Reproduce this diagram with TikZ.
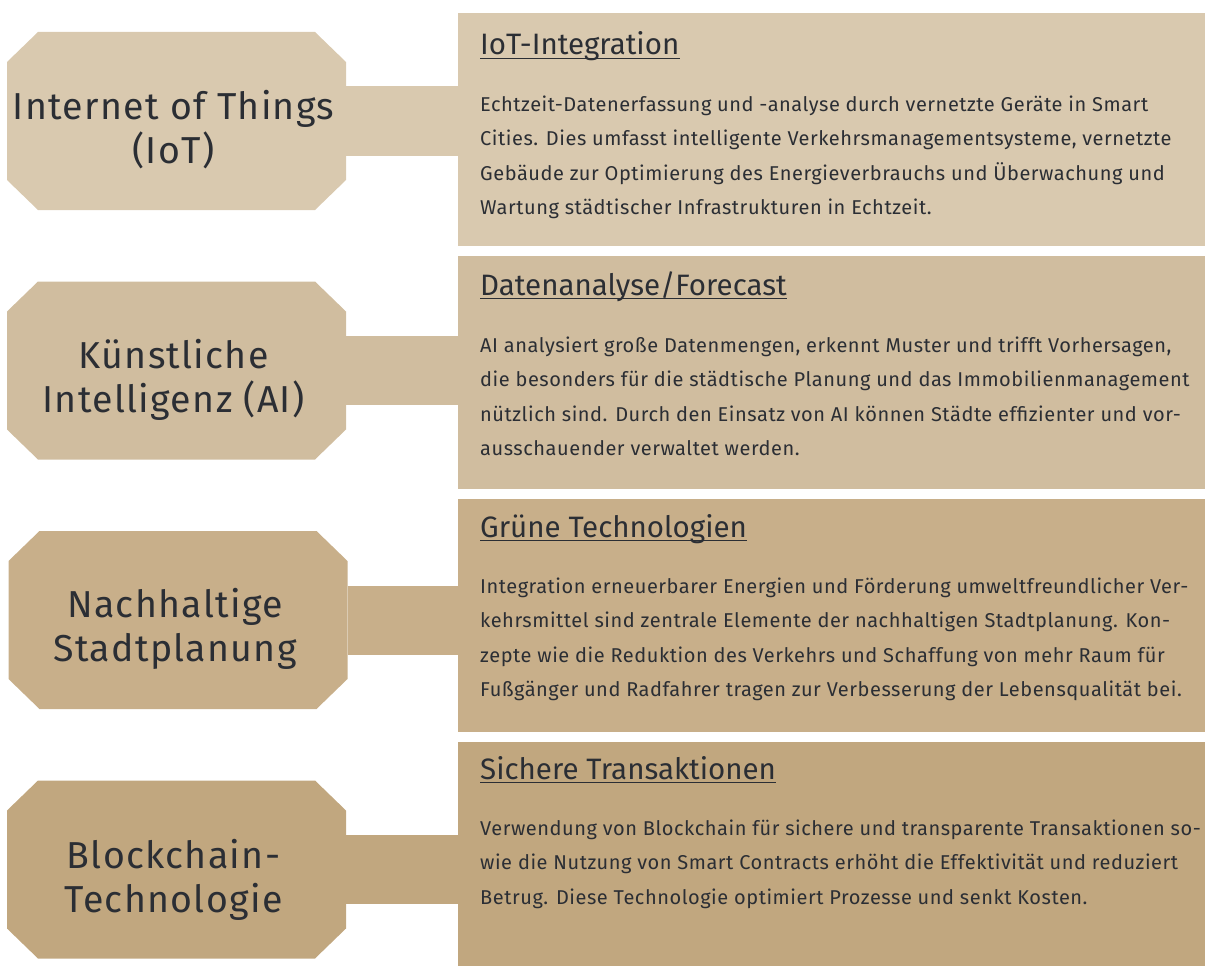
\documentclass[tikz,border=0pt]{standalone}
\usepackage{fontspec}
\setmainfont{Fira Sans}
\newfontfamily\topicfont{Fira Sans}[LetterSpace=3.5]
\newfontfamily\copyfont{Fira Sans}[LetterSpace=2.7]

\definecolor{tanA}{HTML}{D9C9AF}
\definecolor{tanB}{HTML}{D0BD9F}
\definecolor{tanC}{HTML}{C8AF8A}
\definecolor{tanD}{HTML}{C1A77F}
\definecolor{inkgray}{HTML}{2B2E34}

\tikzset{
  topicbox/.style={rectangle, inner sep=0pt, minimum width=339pt,
    minimum height=178pt,
    path picture={\fill[#1]
      ([xshift=31pt]path picture bounding box.north west) --
      ([xshift=-31pt]path picture bounding box.north east) --
      ([yshift=-30pt]path picture bounding box.north east) --
      ([yshift=30pt]path picture bounding box.south east) --
      ([xshift=-31pt]path picture bounding box.south east) --
      ([xshift=31pt]path picture bounding box.south west) --
      ([yshift=30pt]path picture bounding box.south west) --
      ([yshift=-30pt]path picture bounding box.north west) -- cycle;}},
  topiclabel/.style={inner sep=0pt, align=center, text=inkgray,
    font=\topicfont\fontsize{37.5}{44}\selectfont},
  detailbox/.style={rectangle, anchor=north west, minimum width=747pt,
    inner sep=0pt},
  link/.style={line width=69pt},
  headline/.style={anchor=base west, inner sep=0pt, text=inkgray,
    font=\fontsize{29.5}{34}\selectfont},
  underrule/.style={draw=inkgray, line width=1.4pt},
  bodytext/.style={anchor=base west, inner sep=0pt, align=left, text=inkgray,
    font=\copyfont\fontsize{20}{34.5}\selectfont}
}

\begin{document}
\begin{tikzpicture}[x=1pt,y=-1pt]
    \useasboundingbox (0,0) rectangle (1205,966);

    % Textfelder rechts
    \node [detailbox, fill=tanA, minimum height=233pt] (iotinfo) at (458,13) {};
    \node [detailbox, fill=tanB, minimum height=233pt] (aiinfo) at (458,256) {};
    \node [detailbox, fill=tanC, minimum height=233pt] (greeninfo) at (458,499) {};
    \node [detailbox, fill=tanD, minimum height=224pt] (chaininfo) at (458,742) {};

    % Achtecke links
    \node [topicbox=tanA] (iot) at (176.5,121) {};
    \node [topicbox=tanB] (ai) at (176.5,370.5) {};
    \node [topicbox=tanC] (green) at (178,620) {};
    \node [topicbox=tanD] (chain) at (176.5,869.5) {};

    \node [topiclabel] (iotlabel) at ([xshift=-3pt,yshift=-9pt]iot.center) {Internet of Things\\(IoT)};
    \node [topiclabel] (ailabel) at ([xshift=-3pt,yshift=-9pt]ai.center) {Künstliche\\Intelligenz (AI)};
    \node [topiclabel] (greenlabel) at ([xshift=-3pt,yshift=-9pt]green.center) {Nachhaltige\\Stadtplanung};
    \node [topiclabel] (chainlabel) at ([xshift=-3pt,yshift=-10pt]chain.center) {Blockchain-\\Technologie};

    % Verbindungsbalken
    \draw [link, tanA] (iot.east) -- (iot.east -| iotinfo.west);
    \draw [link, tanB] (ai.east) -- (ai.east -| aiinfo.west);
    \draw [link, tanC] (green.east) -- (green.east -| greeninfo.west);
    \draw [link, tanD] (chain.east) -- (chain.east -| chaininfo.west);

    % Ueberschriften
    \node [headline] (iothead) at (480,55) {IoT-Integration};
    \node [headline] (aihead) at (480,295) {Datenanalyse/Forecast};
    \node [headline] (greenhead) at (480,537) {Grüne Technologien};
    \node [headline] (chainhead) at (480,779) {Sichere Transaktionen};
    \foreach \h in {iothead, aihead, greenhead, chainhead}
        \draw [underrule] ([yshift=-3.5pt]\h.base west) -- ([yshift=-3.5pt]\h.base east);

    % Beschreibungen (Anker an der letzten Zeile)
    \node [bodytext] (iottext) at (480,214.5) {Echtzeit-Datenerfassung und -analyse durch vernetzte Geräte in Smart\\
      Cities. Dies umfasst intelligente Verkehrsmanagementsysteme, vernetzte\\
      Gebäude zur Optimierung des Energieverbrauchs und Überwachung und\\
      Wartung städtischer Infrastrukturen in Echtzeit.};
    \node [bodytext] (aitext) at (480,455.5) {AI analysiert große Datenmengen, erkennt Muster und trifft Vorhersagen,\\
      die besonders für die städtische Planung und das Immobilienmanagement\\
      nützlich sind. Durch den Einsatz von AI können Städte effizienter und vor-\\
      ausschauender verwaltet werden.};
    \node [bodytext] (greentext) at (480,696.5) {Integration erneuerbarer Energien und Förderung umweltfreundlicher Ver-\\
      kehrsmittel sind zentrale Elemente der nachhaltigen Stadtplanung. Kon-\\
      zepte wie die Reduktion des Verkehrs und Schaffung von mehr Raum für\\
      Fußgänger und Radfahrer tragen zur Verbesserung der Lebensqualität bei.};
    \node [bodytext] (chaintext) at (480,904) {Verwendung von Blockchain für sichere und transparente Transaktionen so-\\
      wie die Nutzung von Smart Contracts erhöht die Effektivität und reduziert\\
      Betrug. Diese Technologie optimiert Prozesse und senkt Kosten.};
\end{tikzpicture}
\end{document}
